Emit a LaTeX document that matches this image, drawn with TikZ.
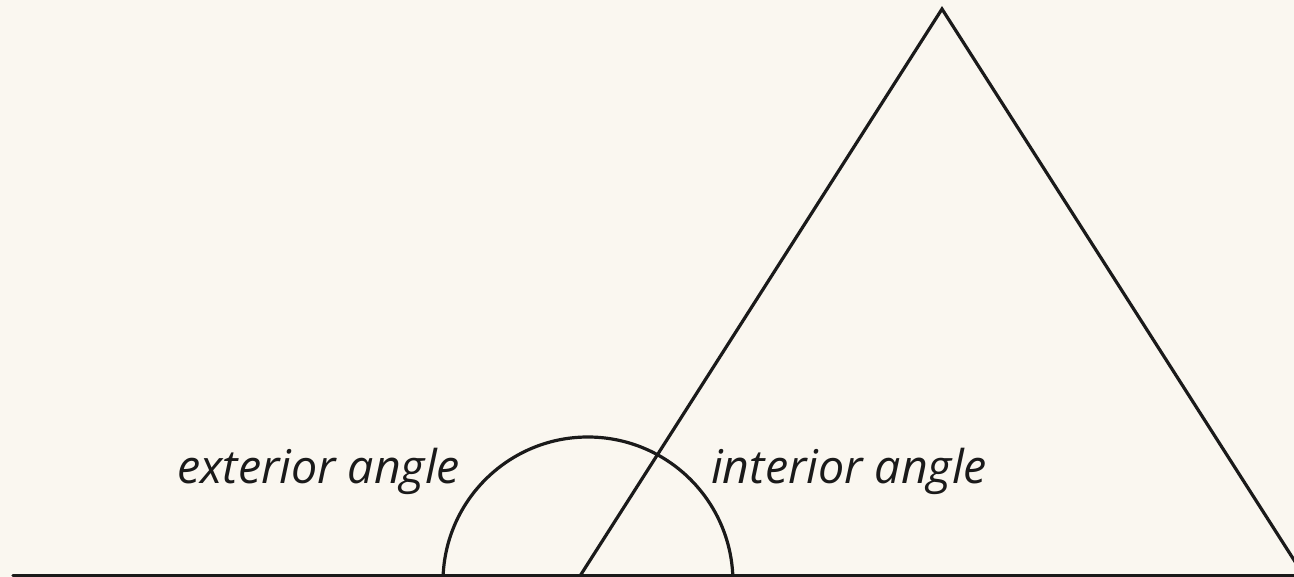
\documentclass[tikz,border=0pt]{standalone}
\usepackage{fontspec}
\usetikzlibrary{calc}
\setmainfont{Open Sans}
\definecolor{bg}{RGB}{250,247,240}
\definecolor{ink}{RGB}{26,26,26}
\tikzset{
  edge/.style={draw=ink, line width=3.2pt, line cap=round, line join=miter},
  lbl/.style={anchor=base west, inner sep=0pt, text=ink, font=\itshape\fontsize{46.5}{55}\selectfont}
}
\begin{document}
\begin{tikzpicture}[x=1pt,y=-1pt]
\fill[bg] (0,0) rectangle (1294,577);
\useasboundingbox (0,0) rectangle (1294,577);
\clip (0,0) rectangle (1294,577);
\coordinate (apex) at (942,9);
\coordinate (bl) at (580,576);
\coordinate (rdir) at (1294,560);
\coordinate (br) at ($(apex)!1.05!(rdir)$);
\coordinate (base0) at (13,575.5);
\coordinate (base1) at (1300,575.5);
\coordinate (arcL) at (443.1,576);
\draw[edge] (base0) -- (base1);
\draw[edge] (bl) -- (apex) -- (br);
\draw[edge] (arcL) arc[start angle=182.37, end angle=357.63, radius=145];
\node[lbl] (ext) at (177,483) {exterior angle};
\node[lbl] (int) at (711,483) {interior angle};
\end{tikzpicture}
\end{document}
